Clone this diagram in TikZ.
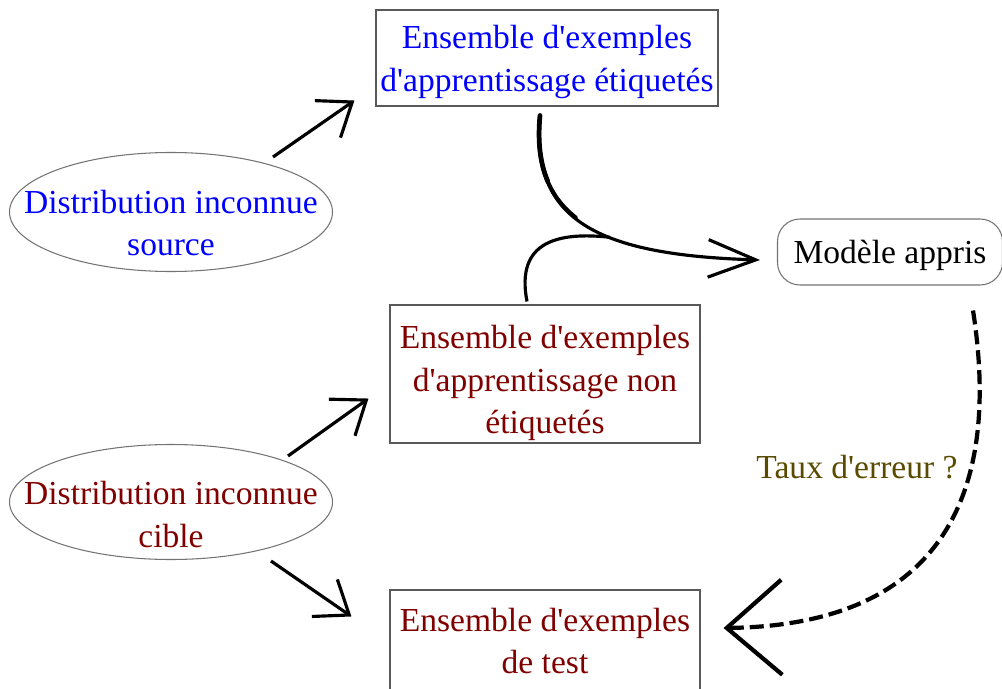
\documentclass[tikz,border=0pt]{standalone}
\usepackage{fontspec}
\setmainfont{Liberation Serif}[Ligatures=TeXOff]
\usetikzlibrary{arrows.meta,shapes.geometric}
\definecolor{srcblue}{RGB}{0,0,255}
\definecolor{tgtred}{RGB}{128,0,0}
\definecolor{errolive}{RGB}{90,74,0}
\begin{document}
\begin{tikzpicture}[
  every node/.style={font=\fontsize{19.1}{24.4}\selectfont, align=center, inner sep=0pt},
  setbox/.style={draw=black!65, line width=0.6pt, rectangle},
  distrib/.style={draw=black!55, line width=0.6pt, ellipse, minimum width=6.46cm, minimum height=2.38cm},
  bigarrow/.style={line width=1.8pt, -{Straight Barb[length=0.6cm, width=0.9cm]}}
]
\useasboundingbox (0,0) rectangle (20.04,13.76);
% sources
\node[distrib, label={[text=srcblue, yshift=-0.22cm]center:Distribution inconnue\\source}] (source) at (3.42,9.52) {};
\node[distrib, minimum height=2.3cm, label={[text=tgtred, yshift=-0.25cm]center:Distribution inconnue\\cible}] (cible) at (3.42,3.72) {};
% sets
\node[setbox, minimum width=6.84cm, minimum height=1.92cm, label={[text=srcblue, yshift=-0.08cm]center:Ensemble d'exemples\\d'apprentissage étiquetés}] (etiq) at (10.94,12.6) {};
\node[setbox, minimum width=6.2cm, minimum height=2.76cm, label={[text=tgtred, yshift=-0.18cm]center:Ensemble d'exemples\\d'apprentissage non\\étiquetés}] (nonetiq) at (10.9,6.28) {};
\node[setbox, text=tgtred, minimum width=6.2cm, minimum height=2.04cm] (test) at (10.9,0.94) {Ensemble d'exemples\\de test};
\node[draw=black!55, line width=0.6pt, rounded corners=0.45cm, minimum width=4.5cm, minimum height=1.32cm, label={[yshift=-0.06cm]center:Modèle appris}] (model) at (17.8,8.72) {};
\node[text=errolive] (taux) at (17.14,4.42) {Taux d'erreur ?};
% drawing
\draw[bigarrow] ([shift={(2.04,1.1)}]source.center) -- ([shift={(-0.42,0.12)}]etiq.south west);
\draw[bigarrow] ([shift={(2.34,0.92)}]cible.center) -- ([shift={(-0.42,0.9)}]nonetiq.south west);
\draw[bigarrow] ([shift={(2.0,-1.18)}]cible.center) -- ([shift={(-0.76,-0.54)}]test.north west);
% learning
\draw[line width=1.8pt, -{Straight Barb[length=0.95cm, width=0.75cm]}] ([shift={(-0.14,-0.18)}]etiq.south) .. controls +(-0.2,-2.1) and +(-3.24,0.1) .. coordinate[pos=0.6] (join) ([shift={(-0.34,-0.16)}]model.west);
\draw[line width=2.2pt, line cap=round] ([shift={(-0.14,-0.18)}]etiq.south) .. controls (10.71,10.515) and (10.944,9.854) .. (11.524,9.404);
\draw[line width=2.7pt, line cap=round] ([shift={(-0.14,-0.18)}]etiq.south) .. controls (10.75,10.935) and (10.8,10.498) .. (10.954,10.136);
\draw[line width=1.8pt] ([shift={(-0.36,0.06)}]nonetiq.north) .. controls (10.3,8.96) and (11.2,9.12) .. (join);
% test
\draw[line width=2.4pt, dash pattern=on 0.28cm off 0.12cm, -{Straight Barb[length=1.1cm, width=1.9cm]}] ([shift={(1.66,-0.5)}]model.south) .. controls +(0.5,-3.2) and +(4.74,0.06) .. ([shift={(0.46,0.26)}]test.east);
\end{tikzpicture}
\end{document}
